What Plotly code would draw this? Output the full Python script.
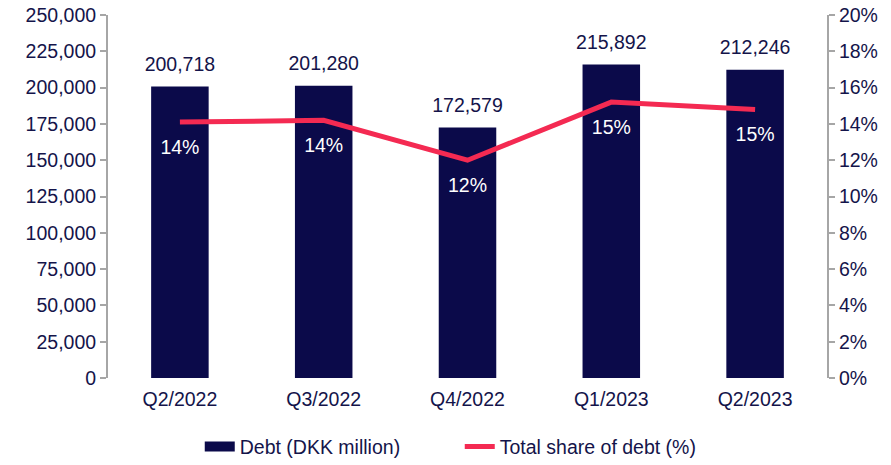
import plotly.graph_objects as go

categories = ["Q2/2022", "Q3/2022", "Q4/2022", "Q1/2023", "Q2/2023"]
debt = [200718, 201280, 172579, 215892, 212246]
share = [0.141, 0.142, 0.120, 0.152, 0.148]

navy = "#0b0a4a"
red = "#f42a52"
text_col = "#14144a"
axis_col = "#a6a6a6"
font_family = "Liberation Sans, Arial, sans-serif"
fs = 19.5

fig = go.Figure()
fig.add_trace(go.Bar(
    x=categories, y=debt, name="Debt (DKK million)",
    marker=dict(color=navy, line=dict(width=0)),
    showlegend=False,
))
# bar value labels
fig.add_trace(go.Scatter(
    x=categories, y=debt, mode="markers+text", showlegend=False,
    marker=dict(size=16, color="rgba(0,0,0,0)"),
    text=[f"{v:,}" for v in debt], textposition="top center",
    textfont=dict(size=fs, color=text_col, family=font_family),
    cliponaxis=False, hoverinfo="skip",
))
# legend entry for bars (wide rectangle)
fig.add_trace(go.Scatter(
    x=[None], y=[None], mode="lines", name="Debt (DKK million)",
    line=dict(color=navy, width=11),
))
fig.add_trace(go.Scatter(
    x=categories, y=share, name="Total share of debt (%)", yaxis="y2",
    mode="lines+markers+text",
    line=dict(color=red, width=5),
    marker=dict(size=26, color="rgba(0,0,0,0)"),
    text=[f"{v*100:.0f}%" for v in share], textposition="bottom center",
    textfont=dict(size=fs, color="white", family=font_family),
))

fig.update_layout(
    width=891, height=465,
    margin=dict(l=108, r=64, t=15, b=87, autoexpand=False),
    paper_bgcolor="white", plot_bgcolor="white",
    font=dict(family=font_family, size=fs, color=text_col),
    bargap=0.6,
    showlegend=True,
    legend=dict(orientation="h", x=0.516, xanchor="center", xref="container",
                y=0.039, yanchor="middle", yref="container",
                font=dict(size=fs, color=text_col),
                entrywidth=215, traceorder="normal"),
    xaxis=dict(showline=False, ticks="", showgrid=False, automargin=False,
               ticklabelstandoff=7,
               tickfont=dict(size=fs, color=text_col)),
    yaxis=dict(range=[0, 250000], dtick=25000, tickformat=",", automargin=False,
               showgrid=False, showline=True, linecolor=axis_col, linewidth=2,
               ticks="outside", tickcolor=axis_col, ticklen=6, tickwidth=2,
               tickfont=dict(size=fs, color=text_col), zeroline=False),
    yaxis2=dict(range=[0, 0.20], dtick=0.02, tickformat=".0%", automargin=False,
                overlaying="y", side="right",
                showgrid=False, showline=True, linecolor=axis_col, linewidth=2,
                ticks="outside", tickcolor=axis_col, ticklen=6, tickwidth=2,
                tickfont=dict(size=fs, color=text_col), zeroline=False),
)

fig.write_html("out.html", config={"displayModeBar": False},
               post_script="document.body.style.margin='0';")
